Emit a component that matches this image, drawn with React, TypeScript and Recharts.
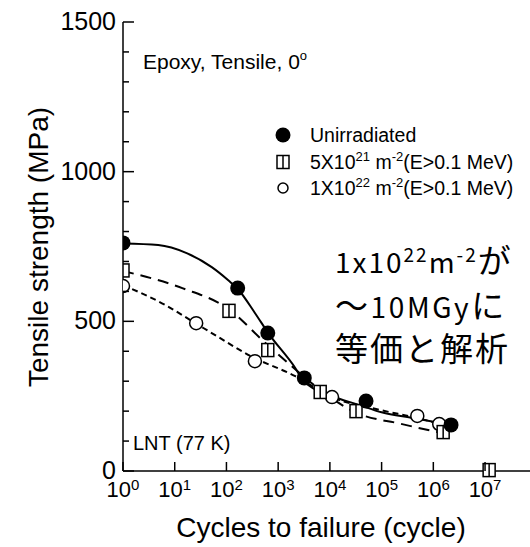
import React from "react";
import { ComposedChart, XAxis, YAxis, Line, Scatter, Customized } from "recharts";

const FONT = "'Liberation Sans', Arial, sans-serif";
const JP = "'Noto Sans CJK JP', sans-serif";

const decadeTicks = [1, 10, 100, 1e3, 1e4, 1e5, 1e6, 1e7];
const strengthTicks = [0, 100, 200, 300, 400, 500, 600, 700, 800, 900, 1000, 1100, 1200, 1300, 1400, 1500];

// measured points
const unirrCycles = [1, 165, 630, 3200, 50000, 2.2e6];
const unirrStrength = [762, 611, 461, 311, 234, 154];
const fluence5e21Cycles = [1, 112, 630, 6500, 32000, 1.55e6, 1.2e7];
const fluence5e21Strength = [670, 535, 404, 264, 200, 130, 3];
const fluence1e22Cycles = [1, 26, 355, 11000, 490000, 1.3e6];
const fluence1e22Strength = [618, 494, 367, 247, 184, 157];

// fitted curves
const unirrFitCycles = [1, 4.8, 17, 52, 107, 166, 355, 660, 2140, 3000, 9800, 38000, 100000, 410000, 2.3e6];
const unirrFitStrength = [760, 755, 728, 681, 638, 608, 528, 458, 344, 304, 254, 220, 196, 177, 153];
const fit5e21Cycles = [1, 14, 117, 490, 2140, 6500, 32000, 230000, 1.55e6];
const fit5e21Strength = [668, 611, 538, 438, 340, 271, 195, 158, 126];
const fit1e22Cycles = [1, 6.5, 25, 69, 263, 2140, 11000, 93000, 490000, 1.35e6];
const fit1e22Strength = [621, 555, 494, 448, 388, 317, 247, 204, 177, 157];

const toPoints = (xs: number[], ys: number[]) => xs.map((x, i) => ({ x, y: ys[i] }));

const XTick = (props: any) => {
  const { x, y, payload } = props;
  const exp = Math.round(Math.log10(payload.value));
  return (
    <g>
      <line x1={x} y1={y} x2={x} y2={y - 9} stroke="#000" strokeWidth={1.5} />
      <text x={x} y={y + 26} textAnchor="middle" fontSize={22} fontFamily={FONT} fill="#000">
        10<tspan dy={-7} fontSize={15}>{exp}</tspan>
      </text>
    </g>
  );
};

const TopTick = (props: any) => {
  const { x, y } = props;
  return <line x1={x} y1={y} x2={x} y2={y + 10} stroke="#000" strokeWidth={1.5} />;
};

const YTick = (props: any) => {
  const { x, y, payload } = props;
  const major = payload.value % 500 === 0;
  return (
    <g>
      <line x1={x} y1={y} x2={x + (major ? 11 : 6)} y2={y} stroke="#000" strokeWidth={1.5} />
      {major && (
        <text x={x - 7} y={y + 8} textAnchor="end" fontSize={25} fontFamily={FONT} fill="#000">
          {payload.value}
        </text>
      )}
    </g>
  );
};

const Dot = ({ cx, cy }: any) => <circle cx={cx} cy={cy} r={7.5} fill="#000" />;
const Ring = ({ cx, cy }: any) => <circle cx={cx} cy={cy} r={6.5} fill="#fff" stroke="#000" strokeWidth={1.5} />;
const Box = ({ cx, cy }: any) => (
  <g>
    <rect x={cx - 6} y={cy - 6.5} width={12} height={13} fill="#fff" stroke="#000" strokeWidth={1.5} />
    <line x1={cx} y1={cy - 6.5} x2={cx} y2={cy + 6.5} stroke="#000" strokeWidth={1.5} />
  </g>
);

const Annotations = () => (
  <g fill="#000">
    <text x={-247} y={48} transform="rotate(-90)" textAnchor="middle" fontSize={28} fontFamily={FONT}>
      Tensile strength (MPa)
    </text>
    <text x={321} y={537} textAnchor="middle" fontSize={28} fontFamily={FONT}>
      Cycles to failure (cycle)
    </text>
    <text x={143} y={69} fontSize={21} fontFamily={FONT}>
      Epoxy, Tensile, 0<tspan dy={-9} fontSize={13}>o</tspan>
    </text>
    <text x={133} y={450} fontSize={20} fontFamily={FONT}>LNT (77 K)</text>

    <Dot cx={283} cy={135} />
    <text x={310} y={142} fontSize={19.5} fontFamily={FONT}>Unirradiated</text>
    <Box cx={283} cy={162} />
    <text x={310} y={169} fontSize={19.5} fontFamily={FONT}>
      5X10<tspan dy={-8} fontSize={13}>21</tspan>
      <tspan dy={8}> m</tspan>
      <tspan dy={-8} fontSize={13}>-2</tspan>
      <tspan dy={8}>(E&gt;0.1 MeV)</tspan>
    </text>
    <circle cx={283} cy={188} r={5} fill="#fff" stroke="#000" strokeWidth={1.5} />
    <text x={310} y={195} fontSize={19.5} fontFamily={FONT}>
      1X10<tspan dy={-8} fontSize={13}>22</tspan>
      <tspan dy={8}> m</tspan>
      <tspan dy={-8} fontSize={13}>-2</tspan>
      <tspan dy={8}>(E&gt;0.1 MeV)</tspan>
    </text>

    <text x={335} y={273} fontSize={28} fontFamily={JP} letterSpacing={2}>
      1x10<tspan dy={-11} fontSize={19}>22</tspan>
      <tspan dy={11}>m</tspan>
      <tspan dy={-11} fontSize={19}>-2</tspan>
      <tspan dy={11} fontSize={33}>が</tspan>
    </text>
    <text x={335} y={318} fontSize={28} fontFamily={JP} letterSpacing={2.6}>
      <tspan fontSize={33}>〜</tspan>10MGy<tspan fontSize={33}>に</tspan>
    </text>
    <text x={335} y={361} fontSize={33} fontFamily={JP} letterSpacing={2}>等価と解析</text>
  </g>
);

export default function App() {
  return (
    <div style={{ position: "absolute", left: 0, top: 0, width: 530, height: 547, background: "#fff" }}>
      <ComposedChart width={530} height={547} margin={{ top: 22, right: 0, bottom: 0, left: 63 }}>
        <XAxis
          xAxisId={0}
          type="number"
          dataKey="x"
          scale="log"
          domain={[1, 7.4e7]}
          ticks={decadeTicks}
          interval={0}
          allowDataOverflow
          height={76}
          tickSize={0}
          tickMargin={0}
          tickLine={false}
          tick={<XTick />}
          axisLine={{ stroke: "#000", strokeWidth: 1.5 }}
        />
        <XAxis
          xAxisId="top"
          orientation="top"
          type="number"
          dataKey="x"
          scale="log"
          domain={[1, 7.4e7]}
          ticks={decadeTicks}
          interval={0}
          allowDataOverflow
          height={0}
          tickSize={0}
          tickMargin={0}
          tickLine={false}
          tick={<TopTick />}
          axisLine={{ stroke: "#000", strokeWidth: 1.5 }}
        />
        <YAxis
          type="number"
          dataKey="y"
          domain={[0, 1500]}
          ticks={strengthTicks}
          interval={0}
          width={60}
          tickSize={0}
          tickMargin={0}
          tickLine={false}
          tick={<YTick />}
          axisLine={{ stroke: "#000", strokeWidth: 1.5 }}
        />
        <Line
          data={toPoints(fit1e22Cycles, fit1e22Strength)}
          dataKey="y"
          type="monotone"
          stroke="#000"
          strokeWidth={2}
          strokeDasharray="6 4"
          dot={false}
          isAnimationActive={false}
        />
        <Line
          data={toPoints(fit5e21Cycles, fit5e21Strength)}
          dataKey="y"
          type="monotone"
          stroke="#000"
          strokeWidth={2}
          strokeDasharray="11 7"
          dot={false}
          isAnimationActive={false}
        />
        <Line
          data={toPoints(unirrFitCycles, unirrFitStrength)}
          dataKey="y"
          type="monotone"
          stroke="#000"
          strokeWidth={2}
          dot={false}
          isAnimationActive={false}
        />
        <Scatter data={toPoints(fluence1e22Cycles, fluence1e22Strength)} shape={<Ring />} isAnimationActive={false} />
        <Scatter data={toPoints(fluence5e21Cycles, fluence5e21Strength)} shape={<Box />} isAnimationActive={false} />
        <Scatter data={toPoints(unirrCycles, unirrStrength)} shape={<Dot />} isAnimationActive={false} />
        <Customized component={Annotations} />
      </ComposedChart>
    </div>
  );
}
